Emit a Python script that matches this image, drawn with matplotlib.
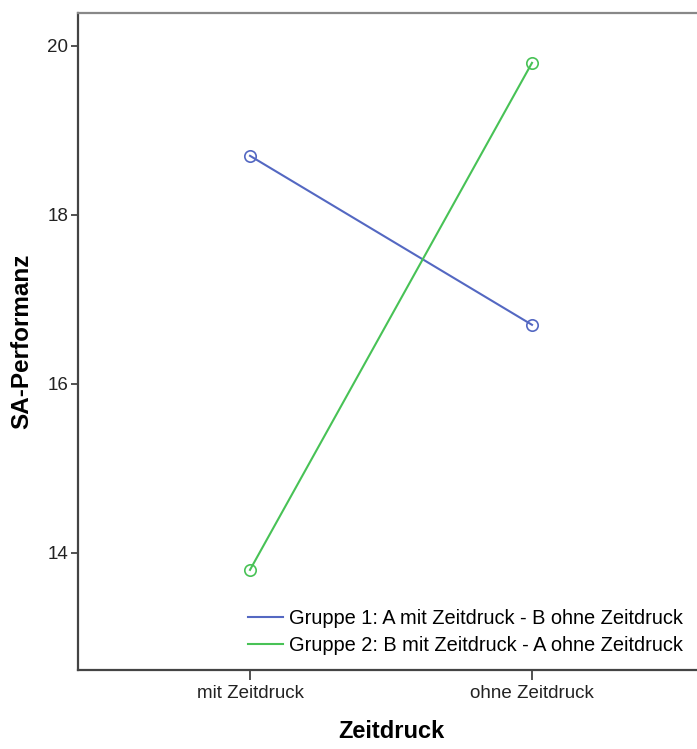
import numpy as np
import matplotlib
matplotlib.use("Agg")
import matplotlib.pyplot as plt

# data
conditions = ["mit Zeitdruck", "ohne Zeitdruck"]
group1 = [18.7, 16.7]
group2 = [13.8, 19.8]
labels = ["Gruppe 1: A mit Zeitdruck - B ohne Zeitdruck",
          "Gruppe 2: B mit Zeitdruck - A ohne Zeitdruck"]
yticks = [14, 16, 18, 20]

plt.rcParams['font.family'] = ['Liberation Sans', 'DejaVu Sans']

fig = plt.figure(figsize=(6.97, 7.49), dpi=100)
# axes run past the right edge, like the original export
ax = fig.add_axes([78/697, 1 - 670/749, (704 - 78)/697, (670 - 13)/749])

x = np.arange(len(conditions))
blue = "#5468c2"
green = "#48c256"
ax.plot(x, group1, color=blue, lw=1.5, marker="o", ms=8.2, mfc="none",
        mec=blue, mew=1.2, label=labels[0])
ax.plot(x, group2, color=green, lw=1.5, marker="o", ms=8.2, mfc="none",
        mec=green, mew=1.2, label=labels[1])

ax.set_xlim(-0.61, 1.61)
ax.set_ylim(12.615, 20.39)
ax.set_xticks(x)
ax.set_xticklabels(conditions)
ax.set_yticks(yticks)

for s in ["left", "bottom", "top", "right"]:
    ax.spines[s].set_color("#444444")
    ax.spines[s].set_linewidth(1.6)
ax.spines["top"].set_color("#888888")

ax.tick_params(axis="both", colors="#333333", labelcolor="#222222",
               labelsize=13.5, width=1.2)
ax.tick_params(axis="y", length=5, pad=2)
ax.tick_params(axis="x", length=7, pad=4)

ax.set_ylabel("SA-Performanz", fontsize=17.5, fontweight="bold", labelpad=10)
ax.set_xlabel("Zeitdruck", fontsize=17, fontweight="bold", labelpad=13)

leg = ax.legend(loc="lower left", bbox_to_anchor=(0.253, 0.005), frameon=False,
                fontsize=14.4, handlelength=1.75, handletextpad=0.3,
                labelspacing=0.38, borderaxespad=0.2)
for h in leg.legend_handles:
    h.set_marker("")

fig.savefig("out.png", dpi=100)
